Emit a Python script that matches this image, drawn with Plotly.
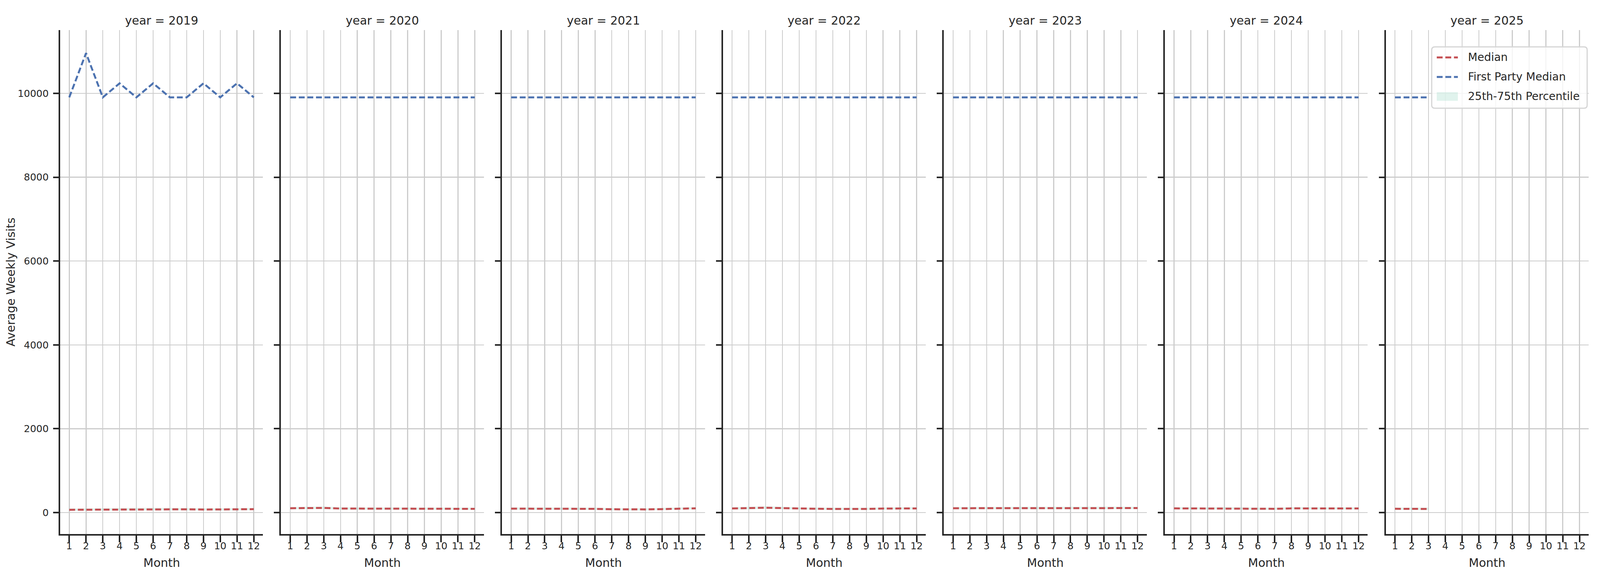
import plotly.graph_objects as go

# ---------------- data ----------------
years = [2019, 2020, 2021, 2022, 2023, 2024, 2025]
months = [1, 2, 3, 4, 5, 6, 7, 8, 9, 10, 11, 12]
months_2025 = [1, 2, 3]

median_2019 = [66, 68, 72, 76, 79, 82, 78, 77, 72, 72, 76, 80]
median_2020 = [103, 104, 110, 95, 92, 92, 92, 92, 91, 90, 89, 88]
median_2021 = [93, 93, 93, 93, 92, 88, 78, 72, 75, 82, 96, 100]
median_2022 = [97, 103, 115, 105, 94, 90, 86, 85, 86, 95, 97, 98]
median_2023 = [103, 103, 104, 104, 104, 104, 104, 104, 108, 110, 108, 106]
median_2024 = [99, 97, 97, 99, 97, 87, 89, 99, 97, 97, 97, 97]
median_2025 = [90, 87, 86]

p25_2019 = [42, 44, 47, 51, 54, 57, 53, 52, 47, 47, 51, 55]
p25_2020 = [78, 79, 84, 70, 67, 67, 67, 67, 66, 65, 64, 63]
p25_2021 = [68, 68, 68, 68, 67, 63, 54, 48, 51, 57, 71, 75]
p25_2022 = [72, 77, 89, 80, 69, 65, 61, 60, 61, 70, 72, 73]
p25_2023 = [78, 78, 79, 79, 79, 79, 79, 79, 83, 85, 83, 81]
p25_2024 = [74, 72, 72, 74, 72, 62, 64, 74, 72, 72, 72, 72]
p25_2025 = [65, 62, 61]

p75_2019 = [95, 98, 103, 107, 110, 113, 108, 107, 101, 101, 106, 110]
p75_2020 = [133, 135, 143, 125, 121, 121, 121, 121, 120, 119, 118, 117]
p75_2021 = [122, 122, 122, 122, 121, 117, 106, 100, 103, 111, 126, 130]
p75_2022 = [127, 134, 148, 136, 123, 119, 114, 113, 114, 124, 127, 128]
p75_2023 = [133, 133, 134, 134, 134, 134, 134, 134, 139, 141, 139, 136]
p75_2024 = [129, 126, 126, 129, 126, 115, 118, 129, 126, 126, 126, 126]
p75_2025 = [119, 116, 115]

fp_2019 = [9905, 10960, 9905, 10240, 9905, 10240, 9905, 9905, 10240, 9905, 10240, 9905]
fp_2020 = [9905, 9905, 9905, 9905, 9905, 9905, 9905, 9905, 9905, 9905, 9905, 9905]
fp_2021 = [9905, 9905, 9905, 9905, 9905, 9905, 9905, 9905, 9905, 9905, 9905, 9905]
fp_2022 = [9905, 9905, 9905, 9905, 9905, 9905, 9905, 9905, 9905, 9905, 9905, 9905]
fp_2023 = [9905, 9905, 9905, 9905, 9905, 9905, 9905, 9905, 9905, 9905, 9905, 9905]
fp_2024 = [9905, 9905, 9905, 9905, 9905, 9905, 9905, 9905, 9905, 9905, 9905, 9905]
fp_2025 = [9905, 9905, 9905]

y_ticks = [0, 2000, 4000, 6000, 8000, 10000]
y_tick_labels = ["0", "2000", "4000", "6000", "8000", "10000"]
x_tick_labels = [str(m) for m in months]
legend_labels = ["Median", "First Party Median", "25th-75th Percentile"]

panels = [
    (2019, months, median_2019, p25_2019, p75_2019, fp_2019),
    (2020, months, median_2020, p25_2020, p75_2020, fp_2020),
    (2021, months, median_2021, p25_2021, p75_2021, fp_2021),
    (2022, months, median_2022, p25_2022, p75_2022, fp_2022),
    (2023, months, median_2023, p25_2023, p75_2023, fp_2023),
    (2024, months, median_2024, p25_2024, p75_2024, fp_2024),
    (2025, months_2025, median_2025, p25_2025, p75_2025, fp_2025),
]

# ---------------- style ----------------
REF_W, H = 5250, 1500          # reference geometry (pixels)
VW = 4096                      # width the headless browser actually offers
FONT = "DejaVu Sans"
DARK = "#262626"
GRID = "#cccccc"
RED = "#C44E52"
BLUE = "#4C72B0"
BAND = "rgba(102,194,165,0.2)"
DASH = "15px,7px"
F_TICK, F_LABEL, F_LEG = 25, 30, 28

left0, spacing, pw = 197, 725, 666      # reference pixels
top_px, bot_px = 77, 1367
ydom = [1 - bot_px / H, 1 - top_px / H]


def px(xr):            # reference x pixel -> paper fraction
    return xr / REF_W


def pxv(xv):           # viewport x pixel -> paper fraction
    return xv / VW


def py(yp):
    return 1 - yp / H


fig = go.Figure()
annotations = []
shapes = []

for i, (yr, mx, med, lo, hi, fp) in enumerate(panels):
    k = "" if i == 0 else str(i + 1)
    xa, ya = "x" + k, "y" + k
    fig.add_trace(go.Scatter(x=mx, y=lo, mode="lines", line=dict(width=0, color=BAND),
                             showlegend=False, hoverinfo="skip", xaxis=xa, yaxis=ya))
    fig.add_trace(go.Scatter(x=mx, y=hi, mode="lines", fill="tonexty", fillcolor=BAND,
                             line=dict(width=0, color=BAND), name=legend_labels[2],
                             showlegend=False, xaxis=xa, yaxis=ya))
    fig.add_trace(go.Scatter(x=mx, y=med, mode="lines", line=dict(color=RED, width=5, dash=DASH),
                             name=legend_labels[0], showlegend=False, xaxis=xa, yaxis=ya))
    fig.add_trace(go.Scatter(x=mx, y=fp, mode="lines", line=dict(color=BLUE, width=5, dash=DASH),
                             name=legend_labels[1], showlegend=False, xaxis=xa, yaxis=ya))

    l = left0 + spacing * i
    r = l + pw
    common = dict(showline=True, linecolor=DARK, linewidth=4, mirror=False,
                  ticks="outside", tickwidth=4, tickcolor=DARK,
                  showgrid=True, gridcolor=GRID, gridwidth=2.5, zeroline=False,
                  tickfont=dict(family=FONT, size=F_TICK, color=DARK))
    fig.update_layout(**{
        "xaxis" + k: dict(domain=[px(l), px(r)], range=[0.45, 12.55], tickmode="array",
                          tickvals=months, ticktext=x_tick_labels, ticklen=17,
                          anchor=ya, ticklabelstandoff=-12, **common),
        "yaxis" + k: dict(domain=ydom, range=[-513, 11510], tickmode="array",
                          tickvals=y_ticks, ticktext=y_tick_labels, ticklen=14,
                          anchor=xa, showticklabels=(i == 0), ticklabelstandoff=6, **common),
    })
    cx = px((l + r) / 2)
    annotations.append(dict(text=f"year = {yr}", x=cx, y=py(53), xref="paper", yref="paper",
                            xanchor="center", yanchor="middle", showarrow=False,
                            font=dict(family=FONT, size=F_LABEL, color=DARK)))
    annotations.append(dict(text="Month", x=cx, y=py(1440), xref="paper", yref="paper",
                            xanchor="center", yanchor="middle", showarrow=False,
                            font=dict(family=FONT, size=F_LABEL, color=DARK)))

annotations.append(dict(text="Average Weekly Visits", x=pxv(27), y=py(722), xref="paper",
                        yref="paper", xanchor="center", yanchor="middle", textangle=-90,
                        showarrow=False, font=dict(family=FONT, size=F_LABEL, color=DARK)))

# ---------------- legend (upper right of the last panel) ----------------
box_r = px(left0 + spacing * 6 + pw) * VW - 4        # viewport px
box_l = box_r - 398
ly0, ly1, rad = 120, 277, 8
lx0, lx1 = pxv(box_l), pxv(box_r)
rx = pxv(rad)
box_path = (f"M {lx0 + rx},{py(ly0)} L {lx1 - rx},{py(ly0)} "
            f"Q {lx1},{py(ly0)} {lx1},{py(ly0 + rad)} "
            f"L {lx1},{py(ly1 - rad)} Q {lx1},{py(ly1)} {lx1 - rx},{py(ly1)} "
            f"L {lx0 + rx},{py(ly1)} Q {lx0},{py(ly1)} {lx0},{py(ly1 - rad)} "
            f"L {lx0},{py(ly0 + rad)} Q {lx0},{py(ly0)} {lx0 + rx},{py(ly0)} Z")
shapes.append(dict(type="path", path=box_path, xref="paper", yref="paper",
                   fillcolor="rgba(255,255,255,0.8)", line=dict(color="#d5d5d5", width=3),
                   layer="above"))
row_y = [147, 197, 247]
sx0, sx1 = box_l + 13, box_l + 13 + 54
shapes.append(dict(type="line", x0=pxv(sx0), x1=pxv(sx1), y0=py(row_y[0]), y1=py(row_y[0]),
                   xref="paper", yref="paper", line=dict(color=RED, width=5, dash=DASH),
                   layer="above"))
shapes.append(dict(type="line", x0=pxv(sx0), x1=pxv(sx1), y0=py(row_y[1]), y1=py(row_y[1]),
                   xref="paper", yref="paper", line=dict(color=BLUE, width=5, dash=DASH),
                   layer="above"))
shapes.append(dict(type="rect", x0=pxv(sx0), x1=pxv(sx1), y0=py(row_y[2] - 11),
                   y1=py(row_y[2] + 11), xref="paper", yref="paper", fillcolor=BAND,
                   line=dict(width=0), layer="above"))
for lbl, ry in zip(legend_labels, row_y):
    annotations.append(dict(text=lbl, x=pxv(sx1 + 24), y=py(ry), xref="paper", yref="paper",
                            xanchor="left", yanchor="middle", showarrow=False,
                            font=dict(family=FONT, size=F_LEG, color=DARK)))

fig.update_layout(
    width=VW, height=H, autosize=False,
    margin=dict(l=0, r=0, t=0, b=0),
    paper_bgcolor="white", plot_bgcolor="white",
    font=dict(family=FONT, color=DARK),
    annotations=annotations, shapes=shapes, showlegend=False,
)

# Remove page margins and make the figure fill the browser viewport exactly
post_script = """
(function(){
  var gd = document.getElementById('{plot_id}');
  var de = document.documentElement, b = document.body;
  de.style.margin = '0'; b.style.margin = '0';
  de.style.overflow = 'hidden'; b.style.overflow = 'hidden';
  var w = window.innerWidth, h = window.innerHeight;
  if (w > 0 && h > 0 && (w !== 4096 || h !== 1500)) {
    gd.style.width = w + 'px'; gd.style.height = h + 'px';
    Plotly.relayout(gd, {width: w, height: h});
  }
})();
"""

fig.write_html("out.html", post_script=post_script,
               config={"displayModeBar": False, "staticPlot": True})
